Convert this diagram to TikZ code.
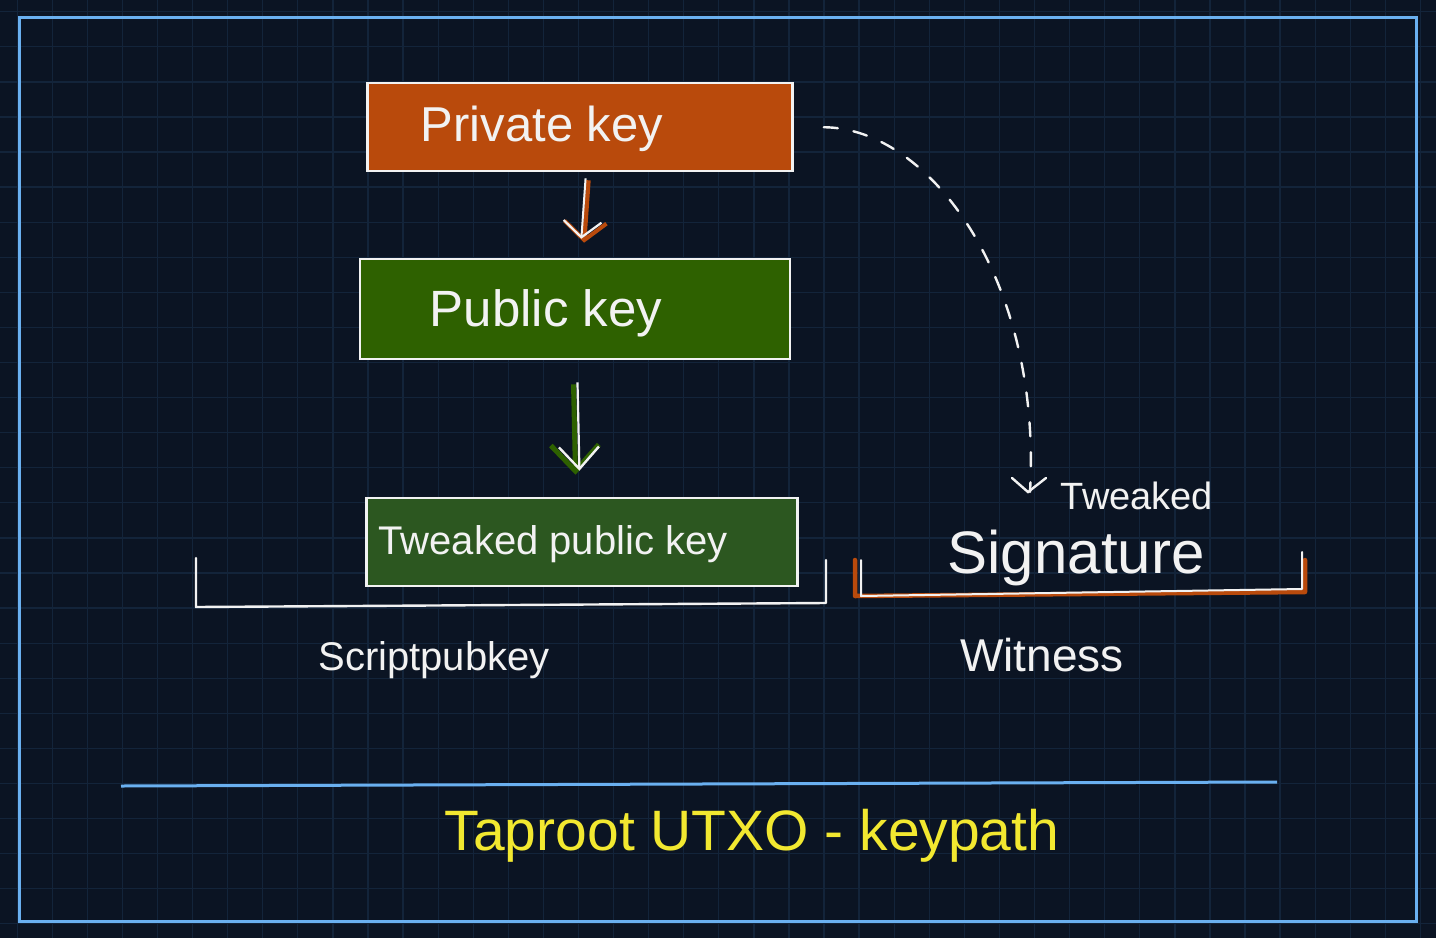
\documentclass[tikz,border=0pt]{standalone}
\usepackage{fontspec}
\setmainfont{Liberation Sans}
\usetikzlibrary{arrows.meta}
\definecolor{bg}{HTML}{0B1423}
\definecolor{gridc}{HTML}{13243A}
\definecolor{framec}{HTML}{6AB0F0}
\definecolor{orng}{HTML}{B94A0C}
\definecolor{grn}{HTML}{2E6100}
\definecolor{tgrn}{HTML}{2C5720}
\definecolor{ylw}{HTML}{F2E830}
\definecolor{chalk}{HTML}{F2F2F2}
\begin{document}
\begin{tikzpicture}[x=1pt,y=-1pt,
  keybox/.style={draw=chalk, line width=2.6pt, inner sep=0pt},
  lbl/.style={text=chalk, inner sep=0pt},
  hand/.style={draw=chalk, line width=2.4pt, line cap=round, line join=round},
  tipo/.style={-{Straight Barb[length=18pt,width=42pt,line width=4pt]}},
  tipw/.style={-{Straight Barb[length=16pt,width=38pt,line width=2.2pt]}},
  tipg/.style={-{Straight Barb[length=26pt,width=48pt,line width=5pt]}},
  tipgw/.style={-{Straight Barb[length=22pt,width=40pt,line width=2.4pt]}}
]
\fill[bg] (0,0) rectangle (1436,938);
\useasboundingbox (0,0) rectangle (1436,938);
% grid
\foreach \k in {0,...,40} {\draw[gridc, line width=1.3pt] ({17.2+35.08*\k},0) -- ({17.2+35.08*\k},938);}
\foreach \k in {0,...,26} {\draw[gridc, line width=1.3pt] (0,{11.7+35.08*\k}) -- (1436,{11.7+35.08*\k});}
% frame
\draw[framec, line width=3pt] (19,17) rectangle (1416,921);

% boxes
\node[keybox, fill=orng, minimum width=425pt, minimum height=88pt] (priv) at (580,127) {};
\node[keybox, fill=grn, minimum width=430pt, minimum height=100pt] (pub) at (575,309) {};
\node[keybox, fill=tgrn, minimum width=431pt, minimum height=88pt] (tpub) at (582,542) {};

\node[lbl, font=\fontsize{49}{54}\selectfont] (privt) at ([xshift=-38pt,yshift=-2pt]priv.center) {Private key};
\node[lbl, font=\fontsize{51}{56}\selectfont] (pubt) at ([xshift=-29pt,yshift=-4pt]pub.center) {Public key};
\node[lbl, font=\fontsize{40}{46}\selectfont] (tpubt) at ([xshift=-29pt,yshift=-2pt]tpub.center) {Tweaked public key};

% arrows
\draw[orng, line width=4.5pt, shorten <=8pt, shorten >=15pt, tipo] ([xshift=9pt]priv.south) -- ([xshift=8pt]pub.north);
\draw[chalk, line width=2pt, shorten <=6pt, shorten >=19pt, tipw] ([xshift=6pt]priv.south) -- ([xshift=5pt]pub.north);
\draw[grn, line width=5pt, shorten <=24pt, shorten >=22pt, tipg] ([xshift=-2pt]pub.south) -- ([xshift=-6pt]tpub.north);
\draw[chalk, line width=2.2pt, shorten <=22pt, shorten >=26pt, tipgw] ([xshift=2pt]pub.south) -- ([xshift=-2pt]tpub.north);

% dashed curve to signature
\coordinate (sigtip) at (1030,492);
\draw[chalk, line width=2.4pt, dash pattern=on 14pt off 16pt, line cap=round, shorten <=30pt]
  (priv.east) .. controls (930,128) and (1042,280) .. (sigtip);
\draw[chalk, line width=2.4pt, line cap=round] (1012,478) -- (1028,492) -- (1046,478);

% signature labels
\node[lbl, font=\fontsize{38}{44}\selectfont] (tw) at (1137,496) {Tweaked};
\node[lbl, font=\fontsize{60}{66}\selectfont] (sig) at (1076,558) {Signature};

% scriptpubkey bracket
\coordinate (sa) at (196,558);
\coordinate (sb) at (196,607);
\coordinate (sc) at (826,603);
\coordinate (sd) at (826,560);
\draw[hand] (sa) -- (sb) -- (sc) -- (sd);
\node[lbl, font=\fontsize{40}{46}\selectfont] (spk) at (434,660) {Scriptpubkey};

% witness bracket
\coordinate (wa) at (855,560);
\coordinate (wb) at (855,596);
\coordinate (wc) at (1305,592);
\coordinate (wd) at (1305,560);
\draw[orng, line width=4.5pt, line cap=round, line join=round] (wa) -- (wb) -- (wc) -- (wd);
\draw[hand, line width=2pt] ([xshift=6pt]wa) -- ([xshift=6pt]wb) -- ([xshift=-3pt,yshift=3pt]wc) -- ([xshift=-3pt,yshift=8pt]wd);
\node[lbl, font=\fontsize{46}{52}\selectfont] (wit) at (1042,655) {Witness};

% divider and title
\coordinate (la) at (121,786);
\coordinate (lb) at (1277,782);
\draw[framec, line width=3pt] (la) -- (lb);
\node[text=ylw, inner sep=0pt, font=\fontsize{57}{62}\selectfont] (title) at (752,836) {Taproot UTXO - keypath};
\end{tikzpicture}
\end{document}
